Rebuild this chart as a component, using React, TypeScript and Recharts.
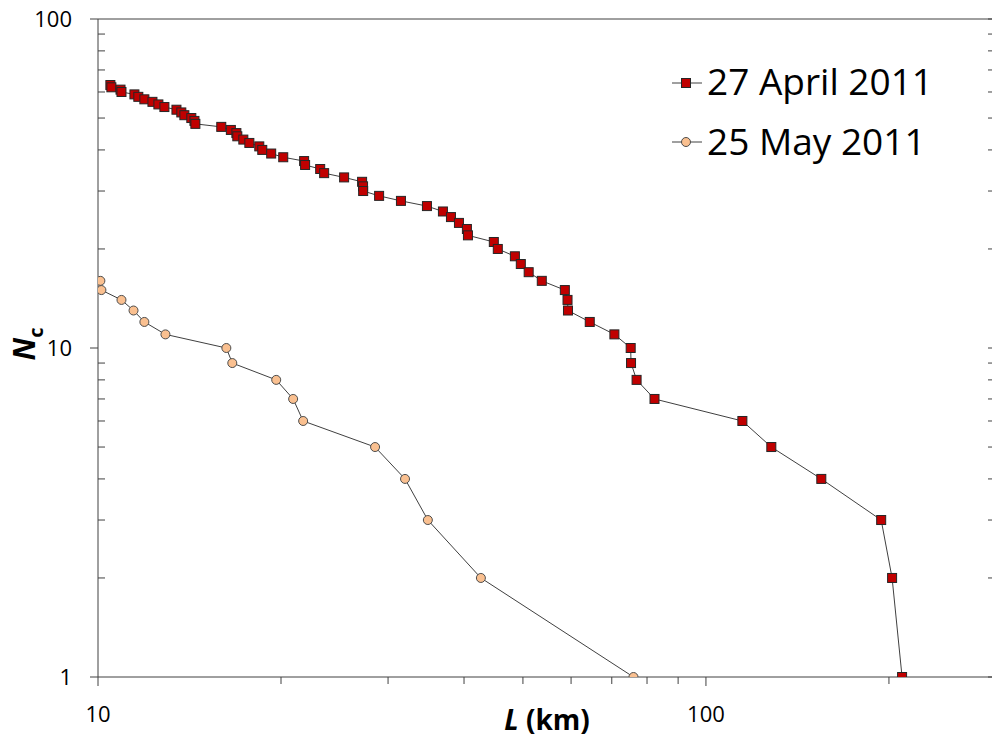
import React from 'react';
import { LineChart, Line, XAxis, YAxis } from 'recharts';

// 27 April 2011: cumulative count N_c of lineaments longer than L (km)
const aprilLength = [
  10.48, 10.52, 10.89, 10.93, 11.48, 11.65, 11.92, 12.29, 12.57, 12.86,
  13.46, 13.71, 13.87, 14.24, 14.41, 14.46, 15.95, 16.54, 16.89, 16.95,
  17.34, 17.74, 18.42, 18.63, 19.27, 20.17, 21.83, 21.91, 23.2, 23.55,
  25.4, 27.19, 27.29, 27.3, 29.0, 31.5, 34.76, 36.93, 38.07, 39.24,
  40.44, 40.6, 44.78, 45.46, 48.5, 49.6, 51.1, 53.7, 58.6, 59.2,
  59.3, 64.4, 70.7, 75.2, 75.3, 76.9, 82.3, 114.8, 128.1, 154.8,
  194.2, 202.4, 210.2,
];
const aprilCount = [
  63, 62, 61, 60, 59, 58, 57, 56, 55, 54,
  53, 52, 51, 50, 49, 48, 47, 46, 45, 44,
  43, 42, 41, 40, 39, 38, 37, 36, 35, 34,
  33, 32, 31, 30, 29, 28, 27, 26, 25, 24,
  23, 22, 21, 20, 19, 18, 17, 16, 15, 14,
  13, 12, 11, 10, 9, 8, 7, 6, 5, 4,
  3, 2, 1,
];

// 25 May 2011
const mayLength = [
  10.09, 10.13, 10.93, 11.44, 11.92, 12.91, 16.26, 16.63, 19.64, 20.94,
  21.75, 28.56, 31.99, 34.88, 42.64, 76.0,
];
const mayCount = [16, 15, 14, 13, 12, 11, 10, 9, 8, 7, 6, 5, 4, 3, 2, 1];

const xTicks = [10, 20, 30, 40, 50, 60, 70, 80, 90, 100, 200, 300];
const xMajor = [10, 100];
const yTicks = [1, 2, 3, 4, 5, 6, 7, 8, 9, 10, 20, 30, 40, 50, 60, 70, 80, 90, 100];
const yMajor = [1, 10, 100];

const seriesNames = ['27 April 2011', '25 May 2011'];

const aprilData = aprilLength.map((L, i) => ({ L, N: aprilCount[i] }));
const mayData = mayLength.map((L, i) => ({ L, N: mayCount[i] }));

const AXIS = '#404040';
const LINE = '#404040';
const RED = '#C00000';
const PEACH = '#FAC090';
const FONT = '"Open Sans", sans-serif';

const Square = (props: any) => {
  const { cx, cy, index } = props;
  if (cx == null || cy == null) return null;
  return <rect key={`sq-${index}`} x={cx - 4.5} y={cy - 4.5} width={9} height={9} fill={RED} stroke="#262626" strokeWidth={1} />;
};

const Circle = (props: any) => {
  const { cx, cy, index } = props;
  if (cx == null || cy == null) return null;
  return <circle key={`ci-${index}`} cx={cx} cy={cy} r={4.5} fill={PEACH} stroke="#4d4d4d" strokeWidth={1} />;
};

const BottomTick = ({ x, y, payload }: any) => {
  const major = xMajor.includes(payload.value);
  return (
    <g>
      <line x1={x} x2={x} y1={y} y2={y + (major ? 9 : 7)} stroke={AXIS} />
      {major && (
        <text x={x} y={y + 45} textAnchor="middle" fontSize={22} fontFamily={FONT} fill="#000">
          {payload.value}
        </text>
      )}
    </g>
  );
};

const TopTick = ({ x, y, payload }: any) => {
  if (payload.value === 10) return null;
  return <line x1={x} x2={x} y1={y} y2={y + 7} stroke={AXIS} />;
};

const LeftTick = ({ x, y, payload }: any) => {
  const major = yMajor.includes(payload.value);
  return (
    <g>
      {major ? (
        <line x1={x - 8} x2={x} y1={y} y2={y} stroke={AXIS} />
      ) : (
        <line x1={x} x2={x + 7} y1={y} y2={y} stroke={AXIS} />
      )}
      {major && (
        <text x={x - 26} y={y + 8} textAnchor="end" fontSize={22} fontFamily={FONT} fill="#000">
          {payload.value}
        </text>
      )}
    </g>
  );
};

const RightTick = ({ x, y }: any) => <line x1={x - 8} x2={x} y1={y} y2={y} stroke={AXIS} />;

const XTitle = (props: any) => {
  const { x, y, width } = props.viewBox;
  return (
    <text x={x + width / 2} y={y + 53} textAnchor="middle" fontSize={28} fontWeight="bold" fontFamily={FONT} fill="#000">
      <tspan fontStyle="italic">L</tspan> (km)
    </text>
  );
};

const YTitle = (props: any) => {
  const { x, y, height } = props.viewBox;
  const cx = x + 7;
  const cy = y + height / 2 - 4;
  return (
    <text x={cx} y={cy} transform={`rotate(-90, ${cx}, ${cy})`} textAnchor="middle" fontWeight="bold" fontFamily={FONT} fill="#000">
      <tspan fontSize={30} fontStyle="italic">N</tspan>
      <tspan fontSize={20} dy={8}>c</tspan>
    </text>
  );
};

const LegendBox = () => (
  <svg width={992} height={742} style={{ position: 'absolute', left: 0, top: 0, pointerEvents: 'none' }}>
    <line x1={672} x2={702} y1={83} y2={83} stroke={LINE} />
    <rect x={681.5} y={78.5} width={9} height={9} fill={RED} stroke="#262626" />
    <text x={707} y={95} fontSize={37} fontFamily={FONT} fill="#000">{seriesNames[0]}</text>
    <line x1={672} x2={702} y1={142} y2={142} stroke={LINE} />
    <circle cx={686} cy={142} r={4.5} fill={PEACH} stroke="#4d4d4d" />
    <text x={707} y={155} fontSize={37} fontFamily={FONT} fill="#000">{seriesNames[1]}</text>
  </svg>
);

export default function App() {
  return (
    <div style={{ position: 'fixed', left: 0, top: 0, width: 992, height: 742, overflow: 'hidden', background: '#fff' }}>
      <LineChart width={1000} height={742} margin={{ top: 9, right: 0, bottom: 5, left: 28 }}>
        <XAxis
          xAxisId="bottom"
          type="number"
          dataKey="L"
          scale="log"
          domain={[10, 300]}
          allowDataOverflow
          ticks={xTicks}
          interval={0}
          height={60}
          tickSize={0}
          tickMargin={0}
          tickLine={false}
          tick={<BottomTick />}
          axisLine={{ stroke: AXIS }}
          label={<XTitle />}
        />
        <XAxis
          xAxisId="top"
          orientation="top"
          type="number"
          scale="log"
          domain={[10, 300]}
          allowDataOverflow
          ticks={xTicks}
          interval={0}
          height={10}
          tickSize={0}
          tickMargin={0}
          tickLine={false}
          tick={<TopTick />}
          axisLine={{ stroke: AXIS }}
        />
        <YAxis
          yAxisId="left"
          type="number"
          dataKey="N"
          scale="log"
          domain={[1, 100]}
          allowDataOverflow
          ticks={yTicks}
          interval={0}
          width={70}
          tickSize={0}
          tickMargin={0}
          tickLine={false}
          tick={<LeftTick />}
          axisLine={{ stroke: AXIS }}
          label={<YTitle />}
        />
        <YAxis
          yAxisId="right"
          orientation="right"
          type="number"
          scale="log"
          domain={[1, 100]}
          allowDataOverflow
          ticks={yTicks}
          interval={0}
          width={4}
          tickSize={0}
          tickMargin={0}
          tickLine={false}
          tick={<RightTick />}
          axisLine={{ stroke: AXIS }}
        />
        <Line
          xAxisId="bottom"
          yAxisId="left"
          data={mayData}
          dataKey="N"
          name={seriesNames[1]}
          type="linear"
          stroke={LINE}
          strokeWidth={1}
          dot={Circle}
          activeDot={false}
          isAnimationActive={false}
        />
        <Line
          xAxisId="bottom"
          yAxisId="left"
          data={aprilData}
          dataKey="N"
          name={seriesNames[0]}
          type="linear"
          stroke={LINE}
          strokeWidth={1}
          dot={Square}
          activeDot={false}
          isAnimationActive={false}
        />
      </LineChart>
      <LegendBox />
    </div>
  );
}
